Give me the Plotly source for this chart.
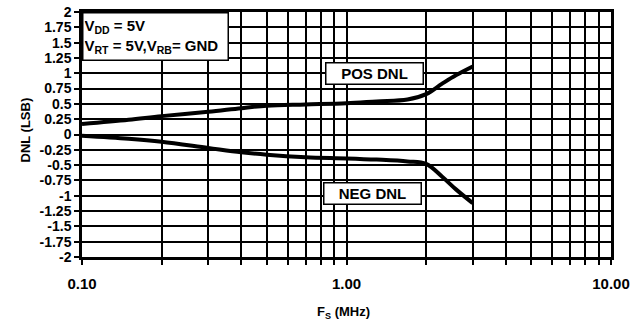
import plotly.graph_objects as go

freq = [0.1, 0.15, 0.2, 0.3, 0.4, 0.5, 0.7, 1.0, 1.3, 1.7, 2.0, 2.3, 2.6, 3.0]
pos_dnl = [0.17, 0.24, 0.30, 0.37, 0.43, 0.47, 0.49, 0.51, 0.54, 0.57, 0.66, 0.83, 0.97, 1.11]
neg_dnl = [-0.02, -0.07, -0.12, -0.22, -0.29, -0.33, -0.37, -0.39, -0.41, -0.44, -0.48, -0.69, -0.90, -1.12]

x_tickvals = [0.1, 1, 10]
x_ticktext = ["0.10", "1.00", "10.00"]
x_minorvals = [0.2, 0.3, 0.4, 0.5, 0.6, 0.7, 0.8, 0.9, 2, 3, 4, 5, 6, 7, 8, 9]
y_tickvals = [2, 1.75, 1.5, 1.25, 1, 0.75, 0.5, 0.25, 0, -0.25, -0.5, -0.75, -1, -1.25, -1.5, -1.75, -2]
y_ticktext = ["2", "1.75", "1.5", "1.25", "1", "0.75", "0.5", "0.25", "0", "-0.25", "-0.5", "-0.75",
              "-1", "-1.25", "-1.5", "-1.75", "-2"]

FONT = "Liberation Sans, Arial, sans-serif"
fig = go.Figure()
fig.add_trace(go.Scatter(x=freq, y=pos_dnl, mode="lines", line=dict(color="black", width=4, shape="spline"),
                         name="POS DNL", showlegend=False))
fig.add_trace(go.Scatter(x=freq, y=neg_dnl, mode="lines", line=dict(color="black", width=4, shape="spline"),
                         name="NEG DNL", showlegend=False))

fig.update_layout(
    width=632, height=326,
    margin=dict(l=82, r=21, t=12, b=69),
    paper_bgcolor="white", plot_bgcolor="white",
    showlegend=False,
    font=dict(family=FONT, color="black", size=14, weight="bold"),
    xaxis=dict(type="log", range=[-1, 1], tickmode="array", tickvals=x_tickvals, ticktext=x_ticktext,
               showgrid=True, gridcolor="black", gridwidth=1.6,
               ticks="outside", ticklen=5, tickcolor="black", tickwidth=1.5,
               minor=dict(tickmode="array", tickvals=x_minorvals, showgrid=True, gridcolor="black",
                          gridwidth=1.6, ticks="outside", ticklen=5, tickcolor="black", tickwidth=1.5),
               showline=True, linecolor="black", linewidth=2.5, mirror=True,
               tickfont=dict(size=15, weight="bold"), ticklabelstandoff=6,
               automargin=False, zeroline=False),
    yaxis=dict(range=[-2, 2], tickmode="array", tickvals=y_tickvals, ticktext=y_ticktext,
               showgrid=True, gridcolor="black", gridwidth=1.6,
               ticks="outside", ticklen=5, tickcolor="black", tickwidth=1.5,
               showline=True, linecolor="black", linewidth=2.5, mirror=True,
               tickfont=dict(size=14, weight="bold"), ticklabelstandoff=0,
               automargin=False, zeroline=False),
)

# axis titles
fig.add_annotation(xref="paper", yref="paper", x=(15 - 82) / 529, y=(257 - 130) / 245,
                   text="DNL (LSB)", textangle=-90, showarrow=False,
                   font=dict(size=13, weight="bold"))
fig.add_annotation(xref="paper", yref="paper", x=(343 - 82) / 529, y=-(312 - 257) / 245,
                   text="F<sub>S</sub> (MHz)", showarrow=False, yanchor="middle",
                   font=dict(size=13, weight="bold"))

fig.add_annotation(xref="paper", yref="paper", x=0, y=1, xanchor="left", yanchor="top",
                   text="V<sub>DD</sub> = 5V<br>V<sub>RT</sub> = 5V,V<sub>RB</sub>= GND",
                   showarrow=False, align="left", bgcolor="white", bordercolor="black", borderwidth=1.5,
                   borderpad=1, width=142, height=44, font=dict(size=15, weight="bold"))
fig.add_annotation(x=0.106, y=1.0, xref="x", yref="y", text="POS DNL", showarrow=False,
                   bgcolor="white", bordercolor="black", borderwidth=1.5, borderpad=1, width=94, height=18,
                   font=dict(size=15, weight="bold"))
fig.add_annotation(x=0.097, y=-0.96, xref="x", yref="y", text="NEG DNL", showarrow=False,
                   bgcolor="white", bordercolor="black", borderwidth=1.5, borderpad=1, width=94, height=18,
                   font=dict(size=15, weight="bold"))

fig.write_html("out.html", post_script="document.body.style.margin='0';",
               config={"displayModeBar": False})
